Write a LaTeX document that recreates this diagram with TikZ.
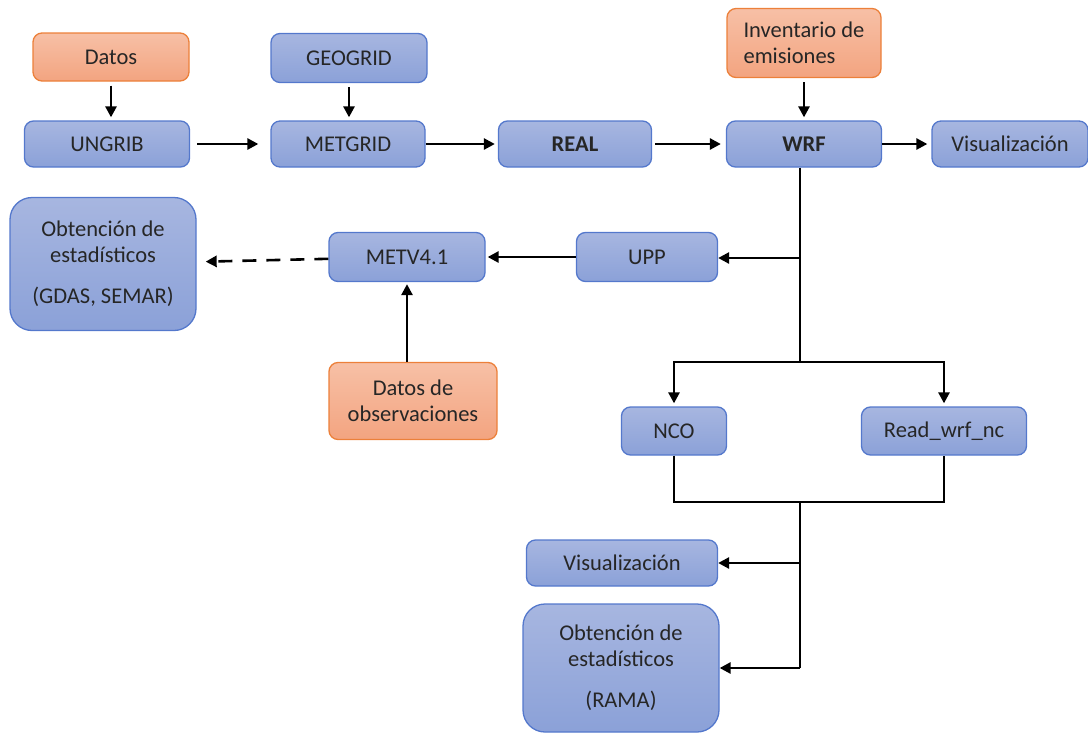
\documentclass[tikz,border=0pt]{standalone}
\usepackage{fontspec}
\setmainfont{Carlito}
\usepackage{tikz}
\usetikzlibrary{arrows.meta, positioning, calc}

\definecolor{blutop}{RGB}{167,182,224}
\definecolor{blubot}{RGB}{139,161,216}
\definecolor{bluedge}{RGB}{84,120,204}
\definecolor{orgtop}{RGB}{247,192,166}
\definecolor{orgbot}{RGB}{243,164,128}
\definecolor{orgedge}{RGB}{236,128,58}

\begin{document}
\begin{tikzpicture}[x=1pt, y=-1pt,
    blk/.style={rectangle, draw=bluedge, line width=1.3pt, top color=blutop, bottom color=blubot,
        rounded corners=9pt, text=black!85, font=\fontsize{22.5}{26}\selectfont, align=center,
        minimum height=46pt, inner sep=0pt},
    inp/.style={blk, draw=orgedge, top color=orgtop, bottom color=orgbot},
    bigblk/.style={blk, rounded corners=22pt},
    arr/.style={-{Triangle[length=11pt, width=11pt]}, line width=2.6pt, shorten >=3pt},
    line/.style={line width=2.6pt}
]
    \useasboundingbox (0,0) rectangle (1088,734);

    % top row
    \node[inp, minimum width=156pt, minimum height=48pt] (datos) at (111,57) {Datos};
    \node[blk, minimum width=156pt, minimum height=49pt] (geogrid) at (349,58) {GEOGRID};
    \node[inp, minimum width=154pt, minimum height=69pt, align=left] (inv) at (804,43) {Inventario de\\emisiones};
    \node[blk, minimum width=165pt] (ungrib) at (107,144) {UNGRIB};
    \node[blk, minimum width=154pt] (metgrid) at (348,144) {METGRID};
    \node[blk, minimum width=153pt] (real) at (575,144) {\bfseries REAL};
    \node[blk, minimum width=155pt] (wrf) at (804,144) {\bfseries WRF};
    \node[blk, minimum width=156pt] (vis1) at (1010,144) {Visualización};

    % verification branch
    \node[bigblk, minimum width=186pt, minimum height=133pt] (stat1) at (103,264) {Obtención de\\estadísticos\\[15pt](GDAS, SEMAR)};
    \node[blk, minimum width=156pt, minimum height=49pt] (metv) at (407,257) {METV4.1};
    \node[blk, minimum width=141pt, minimum height=49pt] (upp) at (647,257) {UPP};
    \node[inp, minimum width=168pt, minimum height=77pt] (obs) at (413,401) {Datos de\\observaciones};

    % post-processing branch
    \node[blk, minimum width=105pt, minimum height=48pt] (nco) at (674,431) {NCO};
    \node[blk, minimum width=165pt, minimum height=48pt] (rwn) at (944,431) {Read\_wrf\_nc};
    \node[blk, minimum width=191pt] (vis2) at (622,563) {Visualización};
    \node[bigblk, minimum width=196pt, minimum height=128pt] (stat2) at (621,668) {Obtención de\\estadísticos\\[15pt](RAMA)};

    \coordinate (upj) at (800,258);
    \coordinate (split) at (800,362);
    \coordinate (merge) at (800,502);
    \coordinate (bot) at (800,668);

    \draw[arr, shorten <=4pt] (datos) -- (datos |- ungrib.north);
    \draw[arr, shorten <=4pt] (geogrid) -- (geogrid |- metgrid.north);
    \draw[arr, shorten <=4pt] (inv) -- (wrf);
    \draw[arr, shorten <=7pt, shorten >=12pt] (ungrib) -- (metgrid);
    \draw[arr] (metgrid) -- (real);
    \draw[arr, shorten <=3pt, shorten >=5pt] (real) -- (wrf);
    \draw[arr, shorten >=4pt] (wrf) -- (vis1);

    \draw[line] (wrf.south -| split) -- (split);
    \draw[arr, shorten >=0pt] (upj) -- (upp.east |- upj);
    \draw[arr, shorten >=2pt] (upp) -- (metv);
    \draw[arr, dash pattern=on 14pt off 10pt, shorten >=9pt] (metv) -- (stat1);
    \draw[arr, shorten >=2pt] (metv |- obs.north) -- (metv.south);

    \draw[arr] (split) -| (nco.north);
    \draw[arr] (split) -| (rwn.north);
    \draw[line] (nco.south) |- (merge) -| (rwn.south);
    \draw[line] (merge) -- (bot);
    \draw[arr, shorten >=0pt] (merge |- vis2) -- (vis2.east);
    \draw[arr, shorten >=0pt] (bot) -- (stat2.east |- bot);
\end{tikzpicture}
\end{document}
